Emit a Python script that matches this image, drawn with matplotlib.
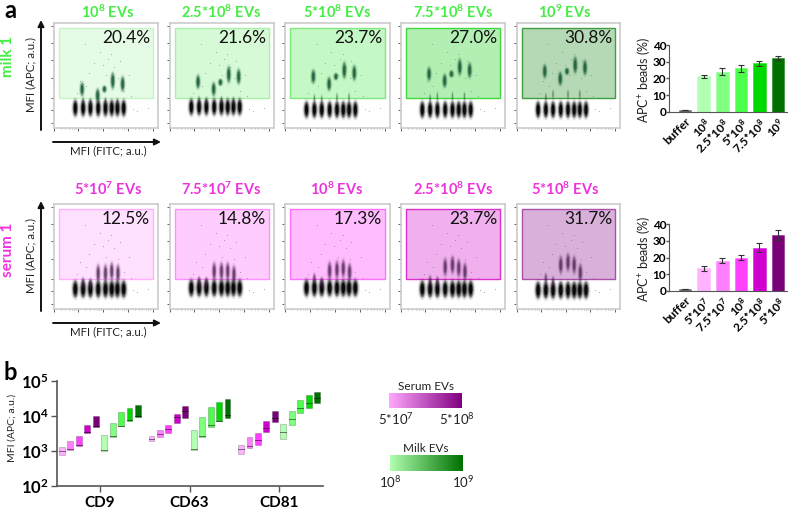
import matplotlib
matplotlib.use('Agg')
import matplotlib.pyplot as plt
import numpy as np
from matplotlib.colors import LinearSegmentedColormap
from matplotlib.patches import Ellipse, Rectangle, FancyArrowPatch

plt.rcParams['font.family'] = ['Lato', 'DejaVu Sans']
plt.rcParams['mathtext.fontset'] = 'custom'
plt.rcParams['mathtext.rm'] = 'Lato'
plt.rcParams['mathtext.bf'] = 'Lato:bold'
plt.rcParams['mathtext.default'] = 'regular'

W, H = 792, 511

# flow panels
milk_titles = ['10^{8}', '2.5{*}10^{8}', '5{*}10^{8}', '7.5{*}10^{8}', '10^{9}']
serum_titles = ['5{*}10^{7}', '7.5{*}10^{7}', '10^{8}', '2.5{*}10^{8}', '5{*}10^{8}']
milk_pct = ['20.4%', '21.6%', '23.7%', '27.0%', '30.8%']
serum_pct = ['12.5%', '14.8%', '17.3%', '23.7%', '31.7%']

# bead populations (fractions of the plot frame)
neg_x = [.205, .28, .35, .425, .495, .555, .61, .67]
milk_neg_y = [.19, .2, .175, .175, .175]
serum_neg_y = [.19, .2, .2, .19, .18]

milk_pos_x = [.27, .42, .485, .565, .66]
milk_pos_y = [[.37, .31, .37, .45, .42],
              [.44, .37, .435, .51, .49],
              [.49, .42, .49, .55, .525],
              [.515, .45, .515, .58, .55],
              [.54, .47, .54, .60, .575]]
milk_pos_h = [.05, .05, .026, .06, .055]
milk_low_x = [.28, .35, .495, .61]
milk_low_y = [[.25, .24, .25, .24], [.26, .25, .26, .25], [.28, .27, .29, .29],
              [.28, .30, .30, .30], [.29, .32, .32, .32]]

serum_pos_x = [.425, .495, .555, .615]
serum_pos_y = [[.34, .34, .36, .34],
               [.36, .36, .36, .33],
               [.365, .375, .385, .35],
               [.40, .42, .39, .355],
               [.42, .445, .42, .345]]
serum_low_x = [.28, .35]
serum_low_y = [[.25, .24], [.26, .25], [.29, .25], [.27, .26], [.29, .26]]

# stray events, same scatter used in each row
stray_x = [.25, .34, .38, .47, .52, .58, .63, .72, .76, .8, .22, .31, .44, .55, .67, .74, .9, .3, .5, .62]
stray_y = [.45, .52, .62, .6, .66, .58, .64, .5, .18, .16, .33, .4, .72, .7, .35, .3, .19, .8, .5, .48]

# bars
milk_labels = ['buffer', '10^{8}', '2.5{*}10^{8}', '5{*}10^{8}', '7.5{*}10^{8}', '10^{9}']
milk_vals = [1, 21.3, 24, 26, 29, 32]
milk_err = [0.2, 1, 2, 2, 1.5, 1.2]
serum_labels = ['buffer', '5{*}10^{7}', '7.5{*}10^{7}', '10^{8}', '2.5{*}10^{8}', '5{*}10^{8}']
serum_vals = [1, 13.5, 18, 20, 26, 33.5]
serum_err = [0.2, 1.5, 1.5, 1.5, 2.7, 3]

# floating bars in panel b
markers = ['CD9', 'CD63', 'CD81']
box_low = [[785, 1070, 1390, 3270, 4960, 1020, 2570, 5070, 7360, 9570],
           [1890, 2460, 3340, 6450, 8580, 1090, 2570, 4960, 7040, 8960],
           [803, 1220, 1450, 3410, 6740, 2200, 5650, 12200, 17300, 24000]]
box_high = [[1330, 1890, 2620, 5650, 10200, 2800, 6170, 12700, 16600, 20600],
            [2680, 3980, 5650, 11700, 19300, 3890, 9360, 17700, 24500, 29900],
            [1520, 2460, 3340, 7190, 13900, 6040, 14200, 29300, 39800, 49500]]
box_med = [[1000, 1115, 1450, 3410, 5180, 1070, 2690, 5300, 7690, 10000],
           [2250, 3060, 4160, 9570, 14200, 1140, 2740, 5650, 7360, 10700],
           [1115, 1360, 2020, 4640, 8960, 3410, 8030, 16600, 23000, 32000]]

green = '#44ee44'
pink = '#ee33dd'
milk_cols = ['#666666', '#b3ffb3', '#80ff80', '#4dff4d', '#00d900', '#007000']
serum_cols = ['#666666', '#ffb3ff', '#ff80ff', '#ff40ff', '#d000d0', '#7a007a']
milk_gate = [('#e6fbe6', '#c5f5c5'), ('#d6fad6', '#a9f0a9'), ('#c4f8c4', '#7fe87f'),
             ('#b3efb3', '#3fd83f'), ('#b5d9b5', '#3f9f3f')]
serum_gate = [('#ffe0ff', '#ffb0ff'), ('#ffcdfd', '#ff90ff'), ('#ffbcfe', '#ff70ff'),
              ('#f0b0ee', '#dd30cc'), ('#d9b0d9', '#aa50aa')]

fig = plt.figure(figsize=(W / 100, H / 100), dpi=100)


def ax_px(x0, y0, x1, y1):
    return fig.add_axes([x0 / W, 1 - y1 / H, (x1 - x0) / W, (y1 - y0) / H])


# overlay in pixel coordinates for free text and arrows
ov = fig.add_axes([0, 0, 1, 1], zorder=5)
ov.set_xlim(0, W)
ov.set_ylim(H, 0)
ov.axis('off')
ov.patch.set_alpha(0)


def blob(ax, x, y, hw, hh, col, a=0.9):
    # each population is a soft ellipse, not single events
    for sx, sy, al in [(2.2, 1.7, a * .12), (1.6, 1.4, a * .3), (1.2, 1.2, a * .5), (.8, .85, a)]:
        ax.add_patch(Ellipse((x, y), 2 * hw * sx, 2 * hh * sy, fc=col, ec='none', alpha=al, zorder=3))


def flow_panel(x0, y0, x1, y1, gate, pct):
    ax = ax_px(x0, y0, x1, y1)
    ax.set_xlim(0, 1)
    ax.set_ylim(0, 1)
    ax.set_xticks([0, .235, .475, .71, .95])
    ax.set_xticks([.07, .11, .14, .17, .19, .21, .3, .35, .38, .41, .43, .45, .54, .59, .62, .65, .67, .69,
                   .78, .82, .85, .88, .9, .92], minor=True)
    ax.set_yticks([.05, .17, .29, .48, .65, .81, .97])
    ax.set_yticks([.1, .14, .23, .35, .4, .44, .55, .6, .7, .75, .86, .9], minor=True)
    ax.tick_params(which='major', length=2, width=.6, color='#444444', labelbottom=False, labelleft=False)
    ax.tick_params(which='minor', length=1, width=.4, color='#666666')
    for s in ax.spines.values():
        s.set_color('#cccccc')
        s.set_linewidth(1.2)
    ax.add_patch(Rectangle((.045, .285), .905, .665, fc=gate[0], ec=gate[1], lw=1, zorder=1))
    ax.text(.925, .86, pct, ha='right', va='center', fontsize=12.5, color='#111111', zorder=4)
    return ax


def rows(y0, y1, title_y, titles, pcts, gates, col, label, label_y):
    lefts = [(54, 158), (170, 274), (285, 390), (401, 505), (517, 620)]
    centers = [108, 221, 337, 453, 565]
    axs = []
    for i, (l, r) in enumerate(lefts):
        axs.append(flow_panel(l, y0, r, y1, gates[i], pcts[i]))
        ov.text(centers[i], title_y, '$\\mathbf{' + titles[i] + '}$ EVs', ha='center', va='center',
                fontsize=10.5, fontweight='bold', color=col)
    ov.text(8, label_y, label, rotation=90, ha='center', va='center', fontsize=11, fontweight='bold', color=col)
    ov.add_patch(FancyArrowPatch((41, y1 + 2), (41, y0 - 3), arrowstyle='-|>', mutation_scale=9, lw=1.4, color='#111111',
                                 shrinkA=0, shrinkB=0))
    ov.add_patch(FancyArrowPatch((53, y1 + 14), (161, y1 + 14), arrowstyle='-|>', mutation_scale=9, lw=1.4, color='#111111',
                                 shrinkA=0, shrinkB=0))
    ov.text(31, (y0 + y1) / 2 - 1, 'MFI (APC; a.u.)', rotation=90, ha='center', va='center', fontsize=8.3, color='#222222')
    ov.text(108, y1 + 23, 'MFI (FITC; a.u.)', ha='center', va='center', fontsize=8.3, color='#222222')
    return axs


milk_axs = rows(23, 128, 12, milk_titles, milk_pct, milk_gate, green, 'milk 1', 56)
serum_axs = rows(204, 309, 189, serum_titles, serum_pct, serum_gate, pink, 'serum 1', 250)

for i, ax in enumerate(milk_axs):
    ax.scatter(stray_x, stray_y, s=.6, color='#2f6f4a', alpha=.5, lw=0, zorder=2)
    for x in neg_x:
        blob(ax, x, milk_neg_y[i], .018, .06, 'black')
    for x, y, h in zip(milk_pos_x, milk_pos_y[i], milk_pos_h):
        blob(ax, x, y, .015, h, '#1a5c38', .8)
    for x, y in zip(milk_low_x, milk_low_y[i]):
        blob(ax, x, y, .007, .035, '#1c3c2a', .3)

for i, ax in enumerate(serum_axs):
    ax.scatter(stray_x, stray_y, s=.6, color='#6a3f6f', alpha=.5, lw=0, zorder=2)
    for x in neg_x:
        blob(ax, x, serum_neg_y[i], .02, .062, 'black')
    for x, y in zip(serum_pos_x, serum_pos_y[i]):
        blob(ax, x, y, .015, .065, '#4a1f4f', .6)
    for x, y in zip(serum_low_x, serum_low_y[i]):
        blob(ax, x, y, .011, .04, '#4a1f4f', .45)


def bar_panel(y0, y1, labels, vals, errs, cols):
    ax = ax_px(669, y0, 787, y1)
    xs = np.arange(len(vals))
    ax.bar(xs, vals, width=.68, color=cols, edgecolor=[c + '99' for c in cols], lw=.5,
           yerr=errs, ecolor='#333333', capsize=2.5, error_kw={'lw': .8, 'capthick': .8})
    ax.set_xlim(-.86, 5.48)
    ax.set_ylim(0, 40)
    ax.set_yticks([0, 10, 20, 30, 40])
    ax.set_xticks(xs)
    ax.set_xticklabels(['$\\mathbf{' + s + '}$' if s != 'buffer' else s for s in labels], rotation=45, ha='right',
                       rotation_mode='anchor', fontsize=8.5, fontweight='bold')
    ax.tick_params(axis='y', labelsize=8.5, length=2, width=1, color='#555555', pad=0)
    ax.tick_params(axis='x', length=0, pad=3)
    for t in ax.get_yticklabels():
        t.set_fontweight('bold')
    ax.spines['top'].set_visible(False)
    ax.spines['right'].set_visible(False)
    ax.spines['left'].set_color('#555555')
    ax.spines['bottom'].set_color('#555555')
    ax.patch.set_alpha(0)
    ov.text(643, (y0 + y1) / 2 + 1, 'APC$^{+}$ beads (%)', rotation=90, ha='center', va='center', fontsize=9, color='#222222')


bar_panel(45, 111.7, milk_labels, milk_vals, milk_err, milk_cols)
bar_panel(224.3, 290.7, serum_labels, serum_vals, serum_err, serum_cols)

# panel b
axb = ax_px(57.3, 381, 323, 486)
box_cols = serum_cols[1:] + milk_cols[1:]
group_step = 10.6
for g in range(3):
    for j in range(10):
        x = g * group_step + j - 4.5
        axb.bar(x, box_high[g][j] - box_low[g][j], bottom=box_low[g][j], width=.7, color=box_cols[j],
                edgecolor='#00000030', lw=.8)
        axb.plot([x - .35, x + .35], [box_med[g][j]] * 2, color='#00000080', lw=.7)
axb.set_yscale('log')
axb.set_ylim(100, 100000)
axb.set_xlim(-5.05, 26.4)
axb.set_yticks([100, 1000, 10000, 100000])
axb.set_yticklabels(['$\\mathbf{10^{%d}}$' % k for k in [2, 3, 4, 5]], fontsize=12)
axb.minorticks_off()
axb.set_xticks([g * group_step for g in range(3)])
axb.set_xticklabels(markers, fontsize=11, fontweight='bold')
axb.tick_params(axis='y', length=4, width=1, color='#555555', pad=2)
axb.tick_params(axis='x', length=4, width=1, color='#555555', pad=3)
axb.spines['top'].set_visible(False)
axb.spines['right'].set_visible(False)
axb.spines['left'].set_color('#555555')
axb.spines['bottom'].set_color('#555555')
axb.spines['left'].set_linewidth(1.2)
axb.spines['bottom'].set_linewidth(1.2)
axb.patch.set_alpha(0)
ov.text(12, 428, 'MFI (APC; a.u.)', rotation=90, ha='center', va='center', fontsize=7.5, color='#222222')

# colour keys
grad = np.linspace(0, 1, 256).reshape(1, -1)
for (x0, y0, x1, y1, c0, c1) in [(389, 392.7, 461.7, 408, '#ffa8ff', '#800080'), (390, 455, 462.7, 471, '#b0ffb0', '#007000')]:
    a = ax_px(x0, y0, x1, y1)
    a.imshow(grad, aspect='auto', cmap=LinearSegmentedColormap.from_list('k', [c0, c1]))
    a.axis('off')
ov.text(426, 386, 'Serum EVs', ha='center', va='center', fontsize=8.5, color='#222222')
ov.text(396, 419, '5*10$^{7}$', ha='center', va='center', fontsize=9.5, color='#222222')
ov.text(457, 419, '5*10$^{8}$', ha='center', va='center', fontsize=9.5, color='#222222')
ov.text(426, 448, 'Milk EVs', ha='center', va='center', fontsize=8.5, color='#222222')
ov.text(390, 482, '10$^{8}$', ha='center', va='center', fontsize=9.5, color='#222222')
ov.text(463, 482, '10$^{9}$', ha='center', va='center', fontsize=9.5, color='#222222')

ov.text(10, 11, 'a', ha='center', va='center', fontsize=17, fontweight='bold', color='black')
ov.text(10, 372, 'b', ha='center', va='center', fontsize=17, fontweight='bold', color='black')

fig.savefig('out.png', dpi=100)
